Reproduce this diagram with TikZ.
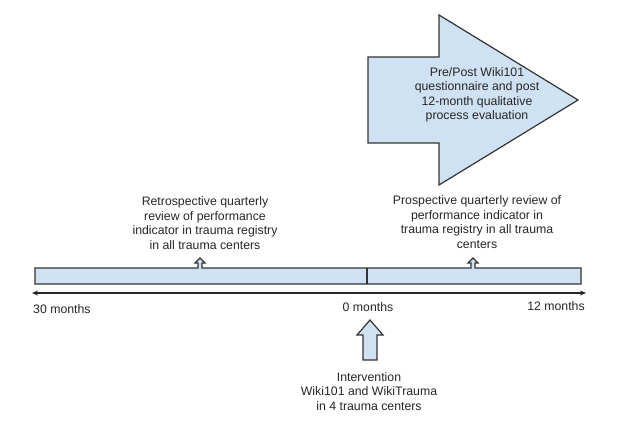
\documentclass[tikz,border=0pt]{standalone}
\usepackage{fontspec}
\setmainfont{Liberation Sans}
\usetikzlibrary{arrows.meta}
\definecolor{boxfill}{HTML}{CFE2F3}
\definecolor{edge}{HTML}{333333}
\tikzset{
  shapeline/.style={draw=edge, fill=boxfill, line width=1.2pt, line join=miter},
  lbl/.style={inner sep=0pt, align=center, font=\fontsize{12.3}{14.5}\selectfont, text=black!85},
  axisline/.style={draw=black!85, line width=1.2pt, {Stealth[length=6pt,width=5pt]}-{Stealth[length=6pt,width=5pt]}}
}
\begin{document}
\begin{tikzpicture}[x=1pt,y=-1pt]
\useasboundingbox (0,0) rectangle (639,438);
% big arrow
\draw[shapeline] (368,57) -- (439,57) -- (439,15) -- (578,100) -- (439,185) -- (439,143) -- (368,143) -- cycle;
\node[lbl] (arrowtext) at (477,95) {Pre/Post Wiki101\\questionnaire and post\\12-month qualitative\\process evaluation};
% timeline bar with small markers
\draw[shapeline] (35,268) -- (198,268) -- (198,263) -- (195,263) -- (200,258) -- (205,263) -- (202,263) -- (202,268)
  -- (471,268) -- (471,263) -- (468,263) -- (473,258) -- (478,263) -- (475,263) -- (475,268)
  -- (581,268) -- (581,284) -- (35,284) -- cycle;
\draw[draw=edge, line width=1.2pt] (367,268) -- (367,284);
% axis
\coordinate (axL) at (32,293);
\coordinate (axR) at (586,293);
\draw[axisline] (axL) -- (axR);
\node[lbl, anchor=west] (m30) at (33,309) {30 months};
\node[lbl] (m0) at (368,307) {0 months};
\node[lbl] (m12) at (556,306) {12 months};
% texts above bar
\node[lbl] (retro) at (205,223) {Retrospective quarterly\\review of performance\\indicator in trauma registry\\in all trauma centers};
\node[lbl] (prosp) at (477,222) {Prospective quarterly review of\\performance indicator in\\trauma registry in all trauma\\centers};
% intervention arrow
\draw[shapeline] (370,320) -- (383,335) -- (377,335) -- (377,360) -- (363,360) -- (363,335) -- (357,335) -- cycle;
\node[lbl] (interv) at (369,391.5) {Intervention\\Wiki101 and WikiTrauma\\in 4 trauma centers};
\end{tikzpicture}
\end{document}
